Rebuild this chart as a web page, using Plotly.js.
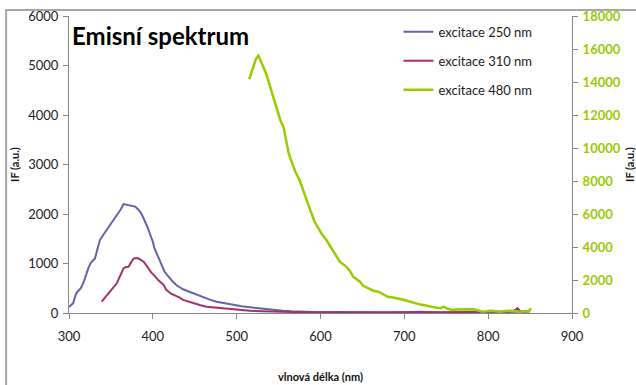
<!DOCTYPE html>
<html>
<head>
<meta charset="utf-8">
<script src="https://cdn.plot.ly/plotly-3.0.1.min.js"></script>
<style>html,body{margin:0;padding:0;background:#fff}#chart{width:636px;height:385px}</style>
</head>
<body>
<div id="chart"></div>
<script>
// Excitation 250 nm (left axis)
var wl250 = [300,303,305,308,310,313,315,318,320,323,326,329,331,334,337,341,345,349,353,356,359,362,365,369,373,376,379,382,385,388,391,394,397,400,402,405,408,411,414,417,420,424,428,432,436,442,448,454,460,468,476,486,496,506,516,526,536,546,555,565,575,590,600,620,640,660,680,700,720,740,760,780,800,820,840,850];
var if250 = [120,170,200,370,430,480,530,650,770,900,1015,1060,1100,1300,1475,1580,1675,1770,1865,1940,2015,2100,2200,2190,2180,2170,2150,2100,2045,1950,1845,1720,1575,1440,1305,1190,1070,960,835,770,700,630,565,520,480,440,400,360,317,270,228,195,162,135,115,95,80,60,45,35,25,20,15,18,12,20,10,15,25,10,15,20,10,20,25,30];
// Excitation 310 nm (left axis)
var wl310 = [339,344,349,353,357,361,365,368,371,374,377,380,383,386,389,392,395,398,401,404,407,410,413,416,419,422,425,428,432,436,442,448,456,464,474,484,492,500,508,516,530,550,580,620,660,700,740,780,800,820,830,835,838,845,850];
var if310 = [228,330,430,510,600,750,900,930,935,1020,1100,1110,1100,1070,1035,970,890,820,770,700,655,610,565,470,420,385,365,345,310,265,230,195,160,127,110,95,88,80,60,45,35,25,15,10,12,8,15,10,20,30,40,95,40,30,50];
// Excitation 480 nm (right axis)
var wl480 = [515,520,523,526,530,535,540,545,549,552,556,559,562,566,570,575,580,584,588,593,597,601,607,611,615,619,623,627,631,635,639,643,647,651,655,659,663,669,673,677,681,685,690,695,699,703,707,711,715,719,723,727,731,737,743,747,751,757,762,767,772,777,783,788,793,798,803,809,815,821,827,832,838,844,849,851];
var if480 = [14180,14900,15400,15600,15100,14530,13700,12900,12200,11700,11250,10400,9680,9100,8560,8060,7300,6800,6200,5530,5150,4830,4420,4100,3820,3450,3110,2950,2800,2550,2200,2050,1900,1650,1550,1450,1350,1290,1180,1090,970,950,910,860,800,740,680,600,545,510,485,430,380,330,285,380,270,180,210,220,240,230,220,150,80,100,140,110,80,120,140,110,80,120,140,285];
var seriesNames = ['excitace 250 nm','excitace 310 nm','excitace 480 nm'];
var xTicks = [300,400,500,600,700,800,900];
var yTicksL = [0,1000,2000,3000,4000,5000,6000];
var yTicksR = [0,2000,4000,6000,8000,10000,12000,14000,16000,18000];

var FONT = 'Lato, "Open Sans", sans-serif';
var traces = [
  {x: wl250, y: if250, name: seriesNames[0], mode: 'lines', line: {color: '#6464AA', width: 2}, legendgroup: 'a'},
  {x: wl310, y: if310, name: seriesNames[1], mode: 'lines', line: {color: '#A3306A', width: 2}, legendgroup: 'b'},
  {x: wl480, y: if480, name: seriesNames[2], mode: 'lines', line: {color: '#99CC00', width: 2.5}, legendgroup: 'c', yaxis: 'y2'}
];
var axisBase = {showgrid: false, zeroline: false, showline: true, linecolor: '#868686', linewidth: 1,
  ticks: 'outside', ticklen: 5, tickcolor: '#868686', tickfont: {family: FONT, size: 13, color: '#222'}};
var layout = {
  width: 636, height: 385,
  margin: {l: 69, r: 64, t: 16, b: 72},
  paper_bgcolor: '#fff', plot_bgcolor: '#fff',
  font: {family: FONT, size: 12, color: '#222'},
  xaxis: Object.assign({}, axisBase, {range: [300, 900], tickvals: xTicks, ticklabelstandoff: 6,
    title: {text: '<b>vlnová délka (nm)</b>', font: {family: FONT, size: 11, color: '#111'}, standoff: 30}}),
  yaxis: Object.assign({}, axisBase, {range: [0, 6000], tickvals: yTicksL, ticklabelstandoff: 2,
    title: {text: '<b>IF (a.u.)</b>', font: {family: FONT, size: 11, color: '#111'}, standoff: 6}}),
  yaxis2: Object.assign({}, axisBase, {range: [0, 18000], tickvals: yTicksR, tickformat: 'd', overlaying: 'y', side: 'right',
    ticklabelstandoff: 2,
    tickfont: {family: FONT, size: 13, color: '#99CC00', weight: 'bold'},
    title: {text: '<b>IF (a.u.)</b>', font: {family: FONT, size: 11, color: '#111'}, standoff: 8}}),
  showlegend: true,
  legend: {x: 0.655, y: 0.997, xanchor: 'left', yanchor: 'top', bgcolor: 'rgba(0,0,0,0)',
    font: {family: FONT, size: 13, color: '#222'}, traceorder: 'grouped', tracegroupgap: 9},
  annotations: [{text: '<b>Emisní spektrum</b>', xref: 'paper', yref: 'paper', x: 0.002, y: 0.99,
    xanchor: 'left', yanchor: 'top', showarrow: false, font: {family: FONT, size: 24, color: '#000'}}],
  shapes: [{type: 'rect', xref: 'paper', yref: 'paper', x0: -0.125, x1: 1.3, y0: -0.5, y1: 1.0202,
    line: {color: '#A6A6A6', width: 2}, fillcolor: 'rgba(0,0,0,0)', layer: 'below'}]
};
Plotly.newPlot('chart', traces, layout, {displayModeBar: false, staticPlot: true});
</script>
</body>
</html>
